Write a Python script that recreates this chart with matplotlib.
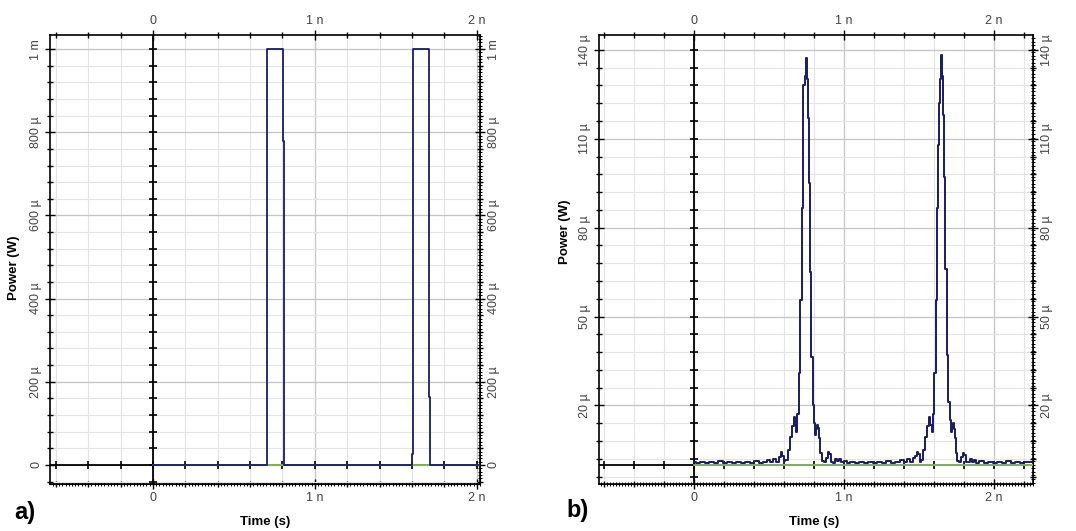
import matplotlib.pyplot as plt
import numpy as np
from matplotlib.ticker import EngFormatter, MultipleLocator, FixedLocator, NullLocator

plt.rcParams['font.family'] = ['Liberation Sans', 'DejaVu Sans']

# a) input pulse train: time in ns, power in mW
pulse_t_ns = [0.0, 0.704, 0.704, 0.802, 0.802, 0.810, 0.810, 1.600, 1.600,
              1.606, 1.606, 1.704, 1.704, 1.713, 1.713, 2.02]
pulse_p_mw = [0.0, 0.0, 1.0, 1.0, 0.78, 0.78, 0.0, 0.0, 0.026,
              0.026, 1.0, 1.0, 0.163, 0.163, 0.0, 0.0]

# b) output trace: time in ns, power in uW
out_t_ns = [
    0.00, 0.03, 0.06, 0.09, 0.12, 0.15, 0.18, 0.21, 0.24, 0.27, 0.30, 0.33, 0.36,
    0.39, 0.42, 0.45, 0.48, 0.50, 0.52, 0.54, 0.56, 0.575, 0.585, 0.595, 0.605, 0.62,
    0.635, 0.65, 0.662, 0.673, 0.68, 0.688, 0.695, 0.706, 0.718, 0.724, 0.730, 0.736,
    0.745, 0.753, 0.759, 0.765, 0.773, 0.780, 0.791, 0.800, 0.807, 0.815, 0.822,
    0.830, 0.836, 0.842, 0.850, 0.862,
    0.875, 0.89, 0.90, 0.91, 0.92, 0.935, 0.95, 0.96, 0.975, 0.99, 1.01, 1.03, 1.06,
    1.09, 1.12, 1.15, 1.18, 1.21, 1.24, 1.27, 1.30, 1.33, 1.36, 1.39, 1.41, 1.43,
    1.45, 1.47, 1.485, 1.494, 1.503, 1.513,
    1.523, 1.538, 1.553, 1.565, 1.576, 1.583, 1.591, 1.598, 1.609, 1.621, 1.627,
    1.633, 1.639, 1.648, 1.656, 1.662, 1.668, 1.676, 1.683, 1.694, 1.703, 1.710,
    1.718, 1.725, 1.733, 1.739, 1.745, 1.753, 1.765,
    1.778, 1.79, 1.80, 1.81, 1.82, 1.835, 1.85, 1.86, 1.875, 1.89, 1.92, 1.95, 1.98,
    2.01, 2.04, 2.07, 2.10, 2.13, 2.16, 2.19, 2.22, 2.263,
]
out_p_uw = [
    0.8, 0.6, 1.0, 0.5, 0.9, 0.7, 1.1, 0.6, 0.8, 0.5, 1.0, 0.7, 0.9,
    0.6, 1.2, 0.7, 1.0, 1.6, 0.8, 1.8, 1.0, 2.5, 4.2, 3.0, 1.2, 1.5,
    5.0, 9.5, 13.0, 16.0, 13.5, 11.0, 17.0, 31.0, 55.6, 86.6, 108.0, 128.0,
    131.0, 137.4, 130.0, 117.0, 95.0, 65.0, 36.5, 20.0, 14.0, 10.0, 12.0,
    13.5, 12.5, 9.0, 4.0, 1.2,
    0.8, 2.2, 4.2, 3.5, 1.0, 0.7, 1.8, 1.2, 2.0, 0.8, 1.3, 0.6, 1.0,
    0.5, 0.9, 0.6, 1.0, 0.7, 0.9, 0.6, 1.1, 0.7, 1.0, 1.5, 0.8, 1.9,
    1.0, 2.2, 2.8, 4.3, 3.5, 1.0,
    1.5, 5.0, 9.5, 13.0, 16.0, 13.5, 11.0, 17.0, 31.0, 55.6, 86.6,
    108.0, 122.0, 130.0, 138.4, 131.0, 118.0, 97.0, 66.0, 37.0, 21.0, 15.0,
    11.0, 12.5, 14.0, 12.0, 9.0, 4.0, 1.2,
    1.0, 2.5, 4.0, 3.2, 1.0, 0.8, 1.9, 1.0, 1.6, 0.7, 1.1, 0.6, 1.0,
    0.5, 0.9, 0.7, 1.1, 0.6, 0.9, 0.6, 1.0, 0.8,
]

time_ticks_ns = [0, 1, 2]
left_ticks_uw = [0, 200, 400, 600, 800, 1000]
right_ticks_uw = [20, 50, 80, 110, 140]

TRACE = '#1b1b66'
GREEN = '#9ccc6a'
TICK_TXT = '#444444'
W, H = 1076, 531


def frame(left, right, top, bottom):
    return [left / W, (H - bottom) / H, (right - left) / W, (bottom - top) / H]


def style(ax, xlim, ylim, ymajor, yminor, ydense):
    ax.set_xlim(*xlim)
    ax.set_ylim(*ylim)
    ax.xaxis.set_major_locator(FixedLocator(np.array(time_ticks_ns) * 1e-9))
    ax.xaxis.set_minor_locator(MultipleLocator(0.2e-9))
    ax.xaxis.set_major_formatter(EngFormatter(places=0, sep=' '))
    ax.yaxis.set_major_locator(ymajor)
    ax.yaxis.set_minor_locator(yminor)
    ax.yaxis.set_major_formatter(EngFormatter(places=0, sep=' '))
    ax.tick_params(which='both', top=True, right=True, labeltop=True, labelright=True,
                   direction='inout', colors='black', labelcolor=TICK_TXT, labelsize=9)
    ax.tick_params(which='major', length=7, width=1, pad=2)
    ax.tick_params(which='minor', length=4, width=1)
    for lab in ax.get_yticklabels():
        lab.set_rotation(90)
        lab.set_va('center')
    for side in ['left', 'right', 'top', 'bottom']:
        ax.spines[side].set_linewidth(1.2)
    ax.grid(which='minor', color='#e4e4e4', lw=0.8)
    ax.grid(which='major', color='#c4c4c4', lw=0.9)
    ax.set_axisbelow(True)

    # dense ruler ticks on the bottom and right frame
    secx = ax.secondary_xaxis('bottom')
    secx.xaxis.set_major_locator(NullLocator())
    secx.xaxis.set_minor_locator(MultipleLocator(0.02e-9))
    secx.tick_params(which='minor', length=3, width=0.7, direction='inout')
    secy = ax.secondary_yaxis('right')
    secy.yaxis.set_major_locator(NullLocator())
    secy.yaxis.set_minor_locator(MultipleLocator(ydense))
    secy.tick_params(which='minor', length=3, width=0.7, direction='inout')

    # crossing axes through the origin
    ax.axvline(0, color='black', lw=1.3, zorder=2)
    ax.axhline(0, color='black', lw=1.3, zorder=2)
    ys = yminor.tick_values(*ylim)
    ys = ys[(ys > ylim[0]) & (ys < ylim[1])]
    ax.plot(np.zeros(len(ys)), ys, ls='none', marker='_', ms=6, mew=1.2,
            color='black', zorder=2)
    xs = ax.xaxis.get_minor_locator().tick_values(*xlim)
    xs = xs[(xs > xlim[0]) & (xs < xlim[1])]
    ax.plot(xs, np.zeros(len(xs)), ls='none', marker='|', ms=6, mew=1.2,
            color='black', zorder=2)


fig = plt.figure(figsize=(W / 100, H / 100), dpi=100)

# panel a
ax1 = fig.add_axes(frame(50, 480, 35, 484))
style(ax1, (-0.636e-9, 2.02e-9), (-46e-6, 1.034e-3),
      FixedLocator(np.array(left_ticks_uw) * 1e-6), MultipleLocator(40e-6), 8e-6)
t_a = np.array(pulse_t_ns) * 1e-9
p_a = np.array(pulse_p_mw) * 1e-3
ax1.plot([0, t_a[-1]], [0, 0], color=GREEN, lw=1.2, zorder=3)
ax1.plot(t_a, p_a, color=TRACE, lw=1.3, zorder=4)

# panel b
ax2 = fig.add_axes(frame(599, 1033, 35, 484))
style(ax2, (-0.63e-9, 2.263e-9), (-6.5e-6, 145e-6),
      FixedLocator(np.array(right_ticks_uw) * 1e-6),
      MultipleLocator(6e-6, offset=2e-6), 1.2e-6)
t_b = np.array(out_t_ns) * 1e-9
p_b = np.array(out_p_uw) * 1e-6
ax2.plot([0, t_b[-1]], [0, 0], color=GREEN, lw=1.2, zorder=3)
ax2.plot(t_b, p_b, color=TRACE, lw=1.4, drawstyle='steps-mid', zorder=4)

# axis titles and panel labels
fig.text(265 / W, 1 - 522 / H, 'Time (s)', ha='center', va='center',
         fontsize=9.5, fontweight='bold')
fig.text(814 / W, 1 - 522 / H, 'Time (s)', ha='center', va='center',
         fontsize=9.5, fontweight='bold')
fig.text(14 / W, 1 - 268 / H, 'Power (W)', ha='center', va='center',
         rotation=90, fontsize=9.5, fontweight='bold')
fig.text(565 / W, 1 - 232 / H, 'Power (W)', ha='center', va='center',
         rotation=90, fontsize=9.5, fontweight='bold')
fig.text(25 / W, 1 - 512 / H, 'a)', ha='center', va='center',
         fontsize=17, fontweight='bold')
fig.text(578 / W, 1 - 510 / H, 'b)', ha='center', va='center',
         fontsize=17, fontweight='bold')

fig.savefig('out.png', dpi=100)
